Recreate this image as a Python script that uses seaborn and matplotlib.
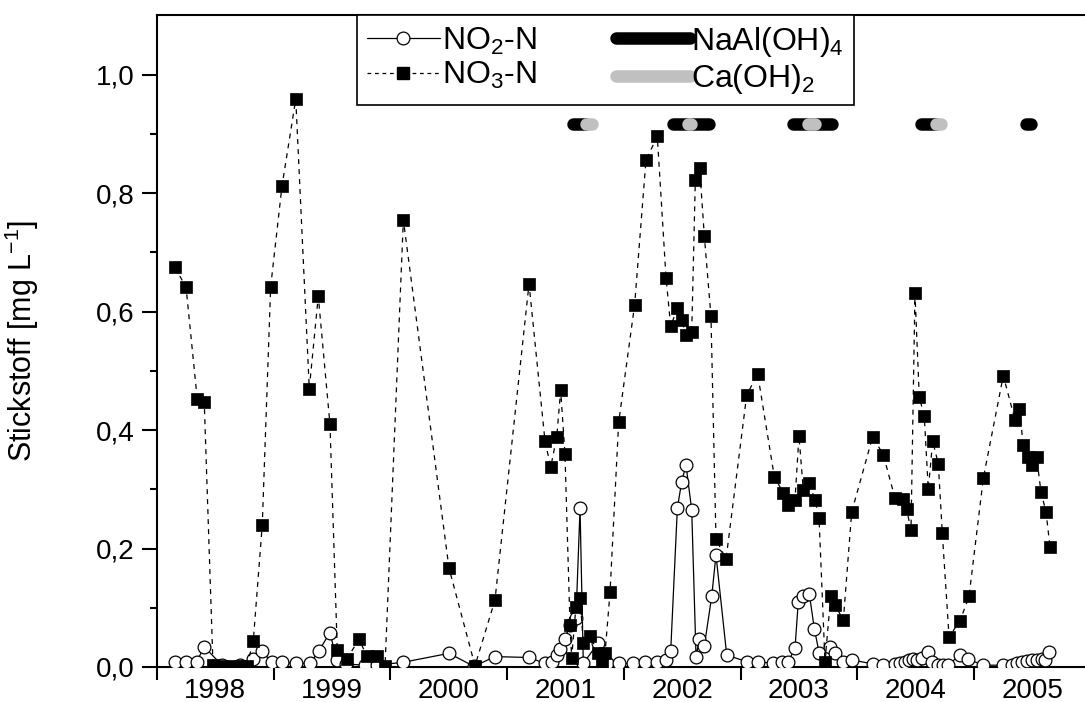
import matplotlib
matplotlib.use("Agg")
import matplotlib.pyplot as plt
from matplotlib.lines import Line2D
import seaborn as sns
import pandas as pd

# ---------------- data ----------------
no2_x = [1998.154, 1998.249, 1998.340, 1998.405, 1998.557, 1998.711, 1998.825, 1998.897,
         1998.983, 1999.074, 1999.189, 1999.311, 1999.388, 1999.482, 1999.540, 1999.620,
         1999.782, 1999.883, 2000.111, 2000.502, 2000.716, 2000.896, 2001.188, 2001.325,
         2001.382, 2001.425, 2001.453, 2001.496, 2001.539, 2001.590, 2001.625, 2001.653,
         2001.782, 2001.853, 2001.961, 2002.081, 2002.182, 2002.282, 2002.362, 2002.402,
         2002.459, 2002.496, 2002.533, 2002.582, 2002.619, 2002.647, 2002.690, 2002.753,
         2002.790, 2002.882, 2003.053, 2003.148, 2003.281, 2003.356, 2003.410, 2003.467,
         2003.495, 2003.538, 2003.590, 2003.633, 2003.675, 2003.767, 2003.810, 2003.881,
         2003.953, 2004.138, 2004.224, 2004.324, 2004.367, 2004.410, 2004.447, 2004.481,
         2004.515, 2004.553, 2004.610, 2004.638, 2004.695, 2004.738, 2004.781, 2004.881,
         2004.952, 2005.081, 2005.252, 2005.324, 2005.367, 2005.410, 2005.453, 2005.495,
         2005.538, 2005.581, 2005.610, 2005.646]
no2_y = [0.009, 0.009, 0.009, 0.034, 0.003, 0.003, 0.013, 0.0275,
         0.008, 0.008, 0.006, 0.006, 0.0275, 0.058, 0.012, 0.005,
         0.003, 0.003, 0.008, 0.023, 0.001, 0.0175, 0.016, 0.006,
         0.009, 0.020, 0.031, 0.048, 0.071, 0.082, 0.268, 0.006,
         0.041, 0.006, 0.006, 0.006, 0.009, 0.009, 0.012, 0.0275,
         0.268, 0.313, 0.341, 0.265, 0.0175, 0.047, 0.035, 0.119,
         0.189, 0.020, 0.009, 0.009, 0.006, 0.009, 0.009, 0.0315,
         0.110, 0.119, 0.123, 0.064, 0.023, 0.034, 0.023, 0.009,
         0.012, 0.005, 0.004, 0.005, 0.007, 0.009, 0.011, 0.013,
         0.011, 0.015, 0.025, 0.008, 0.004, 0.004, 0.004, 0.020,
         0.013, 0.003, 0.003, 0.004, 0.006, 0.008, 0.010, 0.011,
         0.012, 0.014, 0.012, 0.026]

no3_x = [1998.154, 1998.249, 1998.345, 1998.405, 1998.480, 1998.557, 1998.634, 1998.711,
         1998.771, 1998.825, 1998.902, 1998.974, 1999.071, 1999.189, 1999.305, 1999.382,
         1999.482, 1999.545, 1999.626, 1999.731, 1999.797, 1999.883, 1999.954, 2000.111,
         2000.502, 2000.725, 2000.896, 2001.188, 2001.325, 2001.374, 2001.425, 2001.459,
         2001.496, 2001.539, 2001.553, 2001.590, 2001.625, 2001.653, 2001.710, 2001.782,
         2001.811, 2001.839, 2001.882, 2001.956, 2002.093, 2002.190, 2002.287, 2002.362,
         2002.402, 2002.458, 2002.496, 2002.533, 2002.582, 2002.613, 2002.650, 2002.690,
         2002.747, 2002.790, 2002.876, 2003.053, 2003.147, 2003.290, 2003.367, 2003.411,
         2003.467, 2003.501, 2003.538, 2003.589, 2003.638, 2003.673, 2003.724, 2003.773,
         2003.810, 2003.881, 2003.953, 2004.133, 2004.224, 2004.324, 2004.395, 2004.424,
         2004.461, 2004.495, 2004.532, 2004.575, 2004.609, 2004.647, 2004.695, 2004.729,
         2004.787, 2004.881, 2004.958, 2005.081, 2005.252, 2005.352, 2005.389, 2005.423,
         2005.466, 2005.499, 2005.538, 2005.575, 2005.618, 2005.652]
no3_y = [0.675, 0.641, 0.452, 0.447, 0.003, 0.002, 0.002, 0.002,
         0.002, 0.044, 0.240, 0.642, 0.812, 0.959, 0.470, 0.626,
         0.410, 0.028, 0.013, 0.047, 0.019, 0.019, 0.001, 0.755,
         0.167, 0.002, 0.113, 0.647, 0.381, 0.338, 0.388, 0.467,
         0.359, 0.071, 0.015, 0.102, 0.116, 0.041, 0.052, 0.023,
         0.009, 0.023, 0.126, 0.413, 0.612, 0.856, 0.896, 0.657,
         0.575, 0.606, 0.586, 0.561, 0.565, 0.823, 0.843, 0.728,
         0.592, 0.216, 0.182, 0.459, 0.495, 0.321, 0.294, 0.273,
         0.282, 0.390, 0.299, 0.310, 0.282, 0.251, 0.009, 0.119,
         0.105, 0.079, 0.262, 0.389, 0.358, 0.285, 0.283, 0.266,
         0.231, 0.631, 0.456, 0.423, 0.300, 0.381, 0.343, 0.227,
         0.051, 0.078, 0.119, 0.319, 0.492, 0.417, 0.435, 0.375,
         0.355, 0.341, 0.354, 0.295, 0.262, 0.203]

# treatment periods (decimal years)
treat_agent = ["NaAl", "NaAl", "NaAl", "NaAl", "NaAl", "Ca", "Ca", "Ca", "Ca"]
treat_start = [2001.562, 2002.419, 2003.447, 2004.547, 2005.446, 2001.676, 2002.548, 2003.576, 2004.675]
treat_end = [2001.676, 2002.730, 2003.787, 2004.675, 2005.487, 2001.730, 2002.573, 2003.636, 2004.716]
treat_level = 0.917

year_ticks = [1998, 1999, 2000, 2001, 2002, 2003, 2004, 2005]
year_labels = ["1998", "1999", "2000", "2001", "2002", "2003", "2004", "2005"]
y_ticks = [0.0, 0.2, 0.4, 0.6, 0.8, 1.0]
y_labels = ["0,0", "0,2", "0,4", "0,6", "0,8", "1,0"]

# ---------------- style ----------------
sns.set_theme(style="ticks")
plt.rcParams["font.family"] = ["Liberation Sans", "DejaVu Sans"]
plt.rcParams["mathtext.default"] = "regular"
plt.rcParams["axes.linewidth"] = 1.5
for key in ["text.color", "axes.labelcolor", "xtick.color", "ytick.color",
            "axes.edgecolor", "xtick.labelcolor", "ytick.labelcolor"]:
    plt.rcParams[key] = "black"

fig = plt.figure(figsize=(10.85, 7.02), dpi=100)
ax = fig.add_axes([0.1447, 0.0499, 0.8553, 0.9288])

df2 = pd.DataFrame({"x": no2_x, "y": no2_y})
df3 = pd.DataFrame({"x": no3_x, "y": no3_y})

sns.lineplot(data=df2, x="x", y="y", ax=ax, sort=False, estimator=None,
             color="black", linewidth=0.9, marker="o", markersize=9.2,
             markerfacecolor="white", markeredgecolor="black", markeredgewidth=0.9,
             legend=False, zorder=3)
sns.lineplot(data=df3, x="x", y="y", ax=ax, sort=False, estimator=None,
             color="black", linewidth=0.9, linestyle=(0, (4, 4)), marker="s",
             markersize=9.2, markerfacecolor="black", markeredgecolor="black",
             markeredgewidth=0.5, legend=False, zorder=4)

agent_color = {"NaAl": "black", "Ca": "#c0c0c0"}
for agent in ["NaAl", "Ca"]:
    for a, s, e in zip(treat_agent, treat_start, treat_end):
        if a != agent:
            continue
        seg = pd.DataFrame({"x": [s, e], "y": [treat_level, treat_level]})
        sns.lineplot(data=seg, x="x", y="y", ax=ax, sort=False, estimator=None,
                     color=agent_color[a], linewidth=9, solid_capstyle="round",
                     legend=False, zorder=5)

ax.set_xlim(1998.0, 2005.952)
ax.set_ylim(0.0, 1.101)

ax.set_xticks(year_ticks)
ax.set_xticklabels([])
ax.set_xticks([y + 0.5 for y in year_ticks], minor=True)
ax.set_xticklabels(year_labels, minor=True)
ax.tick_params(axis="x", which="major", direction="out", length=9, width=1.5)
ax.tick_params(axis="x", which="minor", length=0, pad=8, labelsize=20)

ax.set_yticks(y_ticks)
ax.set_yticklabels(y_labels)
ax.set_yticks([0.1, 0.3, 0.5, 0.7, 0.9], minor=True)
ax.tick_params(axis="y", which="major", direction="out", length=11, width=1.5, pad=5, labelsize=20)
ax.tick_params(axis="y", which="minor", direction="out", length=5, width=1.5)

ax.spines["right"].set_visible(False)
ax.spines["top"].set_visible(True)
ax.set_xlabel("")
ax.set_ylabel("Stickstoff [mg L$^{-1}$]", fontsize=22)
ax.yaxis.set_label_coords(-0.125, 0.5)

handles = [
    Line2D([], [], color="black", lw=0.9, marker="o", ms=9.2, mfc="white", mec="black", mew=0.9),
    Line2D([], [], color="black", lw=0.9, ls=(0, (3, 3)), marker="s", ms=9.2, mfc="black", mec="black"),
    Line2D([], [], color="black", lw=9, solid_capstyle="round"),
    Line2D([], [], color="#c0c0c0", lw=9, solid_capstyle="round"),
]
labels = ["NO$_2$-N", "NO$_3$-N", "NaAl(OH)$_4$", "Ca(OH)$_2$"]
leg = ax.legend(handles, labels, ncol=2, loc="upper left", bbox_to_anchor=(0.2155, 1.0),
                borderaxespad=0, fontsize=23, frameon=True, fancybox=False,
                edgecolor="black", framealpha=1, handlelength=2.3, handletextpad=0.05,
                columnspacing=2.5, labelspacing=0.1, borderpad=0.3)
leg.get_frame().set_linewidth(1.2)
leg.set_zorder(10)

fig.savefig("out.png", dpi=100)
